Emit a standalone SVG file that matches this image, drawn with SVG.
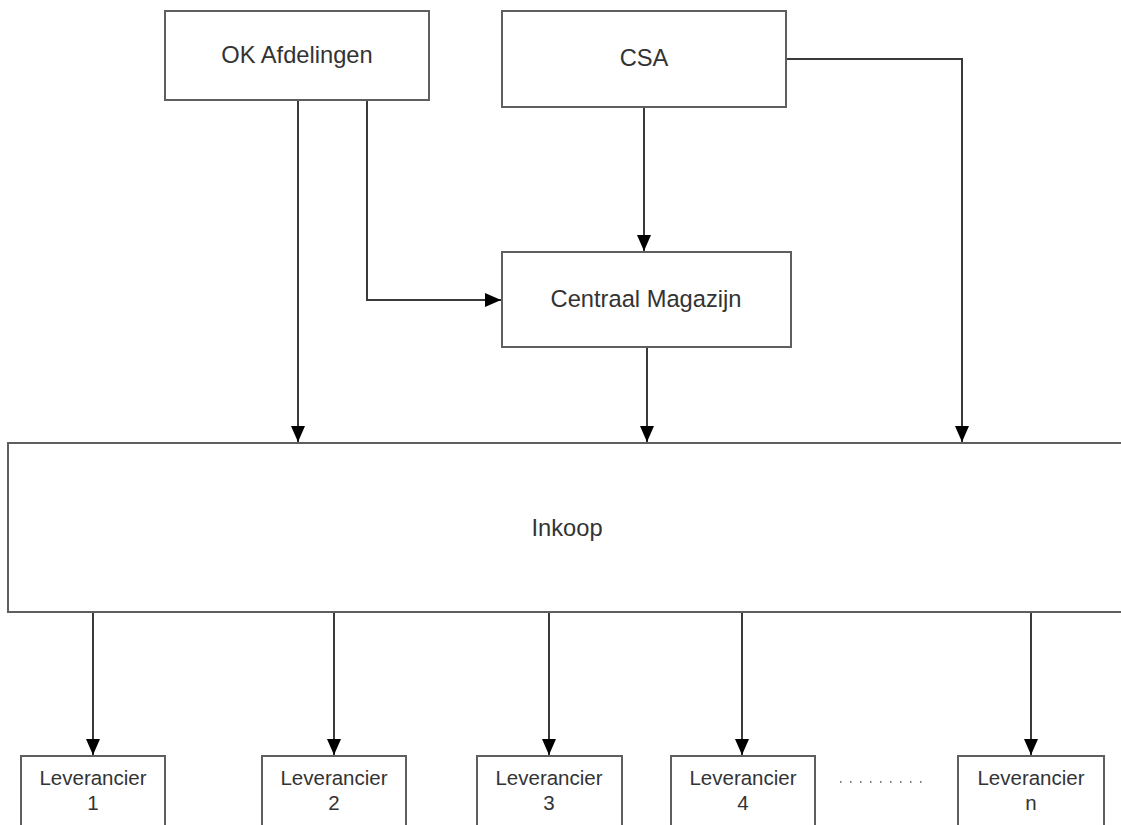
<svg xmlns="http://www.w3.org/2000/svg" width="1121" height="825" viewBox="0 0 1121 825">
<style>
.box{fill:#fff;stroke:#5f5f5f;stroke-width:2}
.lbl{font-family:"Liberation Sans",Arial,sans-serif;font-size:23.7px;fill:#333;text-anchor:middle}
.sm{font-family:"Liberation Sans",Arial,sans-serif;font-size:20.5px;fill:#333;text-anchor:middle}
.con{fill:none;stroke:#3a3a3a;stroke-width:2}
</style>
<defs>
<marker id="arr" viewBox="0 0 16 14" refX="16" refY="7" markerWidth="16" markerHeight="14" markerUnits="userSpaceOnUse" orient="auto">
<path d="M0,0 L16,7 L0,14 Z" fill="#000"/>
</marker>
</defs>
<rect width="1121" height="825" fill="#fff"/>
<g id="connectors">
<path class="con" d="M298,100 V442" marker-end="url(#arr)"/>
<path class="con" d="M367,100 V300 H501" marker-end="url(#arr)"/>
<path class="con" d="M644,107 V251" marker-end="url(#arr)"/>
<path class="con" d="M786,59 H962 V442" marker-end="url(#arr)"/>
<path class="con" d="M647,347 V442" marker-end="url(#arr)"/>
<path class="con" d="M93,612 V755" marker-end="url(#arr)"/>
<path class="con" d="M334,612 V755" marker-end="url(#arr)"/>
<path class="con" d="M549,612 V755" marker-end="url(#arr)"/>
<path class="con" d="M742,612 V755" marker-end="url(#arr)"/>
<path class="con" d="M1031,612 V755" marker-end="url(#arr)"/>
</g>
<g id="ok"><rect class="box" x="165" y="11" width="264" height="89"/><text class="lbl" x="297" y="63">OK Afdelingen</text></g>
<g id="csa"><rect class="box" x="502" y="11" width="284" height="96"/><text class="lbl" x="644" y="66">CSA</text></g>
<g id="cm"><rect class="box" x="502" y="252" width="289" height="95"/><text class="lbl" x="646" y="307">Centraal Magazijn</text></g>
<g id="inkoop"><rect class="box" x="8" y="443" width="1130" height="169"/><text class="lbl" x="567" y="536">Inkoop</text></g>
<g id="lev1"><rect class="box" x="21" y="756" width="144" height="90"/><text class="sm" x="93" y="785">Leverancier</text><text class="sm" x="93" y="810">1</text></g>
<g id="lev2"><rect class="box" x="262" y="756" width="144" height="90"/><text class="sm" x="334" y="785">Leverancier</text><text class="sm" x="334" y="810">2</text></g>
<g id="lev3"><rect class="box" x="477" y="756" width="145" height="90"/><text class="sm" x="549" y="785">Leverancier</text><text class="sm" x="549" y="810">3</text></g>
<g id="lev4"><rect class="box" x="671" y="756" width="144" height="90"/><text class="sm" x="743" y="785">Leverancier</text><text class="sm" x="743" y="810">4</text></g>
<g id="levn"><rect class="box" x="958" y="756" width="146" height="90"/><text class="sm" x="1031" y="785">Leverancier</text><text class="sm" x="1031" y="810">n</text></g>
<g id="dots"><line x1="840" y1="782" x2="922" y2="782" stroke="#555" stroke-width="1.5" stroke-dasharray="1.5 8.5"/></g>
</svg>
